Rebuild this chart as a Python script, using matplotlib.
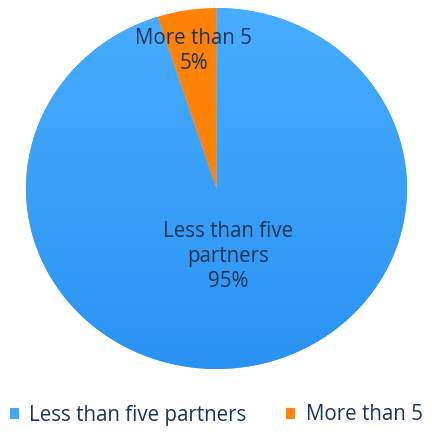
import matplotlib.pyplot as plt
import numpy as np

categories = ['Less than five partners', 'More than 5']
shares = [95, 5]
slice_labels = ['Less than five\npartners\n95%', 'More than 5\n5%']
colors = ['#3FA7FF', '#FF8105']
text_color = '#1C3557'

plt.rcParams['font.family'] = ['Open Sans', 'DejaVu Sans']

fig = plt.figure(figsize=(6, 6), dpi=72)
# pie is drawn slightly wider than tall
ax = fig.add_axes([26 / 432, 63 / 432, 381 / 432, 361 / 432])
wedges, _ = ax.pie(shares, colors=colors, startangle=90, counterclock=False,
                   radius=1.0, wedgeprops=dict(linewidth=0))
ax.set_aspect('auto')
ax.set_xlim(-1, 1)
ax.set_ylim(-1, 1)

# soft vertical shading on the big slice
grad = np.linspace(1, 0, 256).reshape(-1, 1)
top = np.array([0x48, 0xAD, 0xFF]) / 255
bot = np.array([0x2A, 0x92, 0xF2]) / 255
img = top * grad[..., None] + bot * (1 - grad[..., None])
im = ax.imshow(img, extent=[-1, 1, -1, 1], aspect='auto', zorder=1)
im.set_clip_path(wedges[0])
wedges[1].set_zorder(2)

# labels sit on each slice's middle angle
label_r = [0.38, 0.77]
for w, lab, r in zip(wedges, slice_labels, label_r):
    a = np.radians((w.theta1 + w.theta2) / 2)
    ax.text(r * np.cos(a), r * np.sin(a), lab,
            ha='center', va='center', fontsize=20.5, color=text_color,
            linespacing=1.25, zorder=3)

handles = [plt.Rectangle((0, 0), 1, 1, color=c) for c in colors]
fig.legend(handles, categories, loc='center', bbox_to_anchor=(0.5, 1 - 415 / 432),
           ncol=2, frameon=False, fontsize=20.5, handlelength=0.42, handleheight=0.42,
           handletextpad=0.55, columnspacing=1.9, labelcolor=text_color,
           borderpad=0, borderaxespad=0)

fig.savefig('out.png', dpi=72, facecolor='white')
